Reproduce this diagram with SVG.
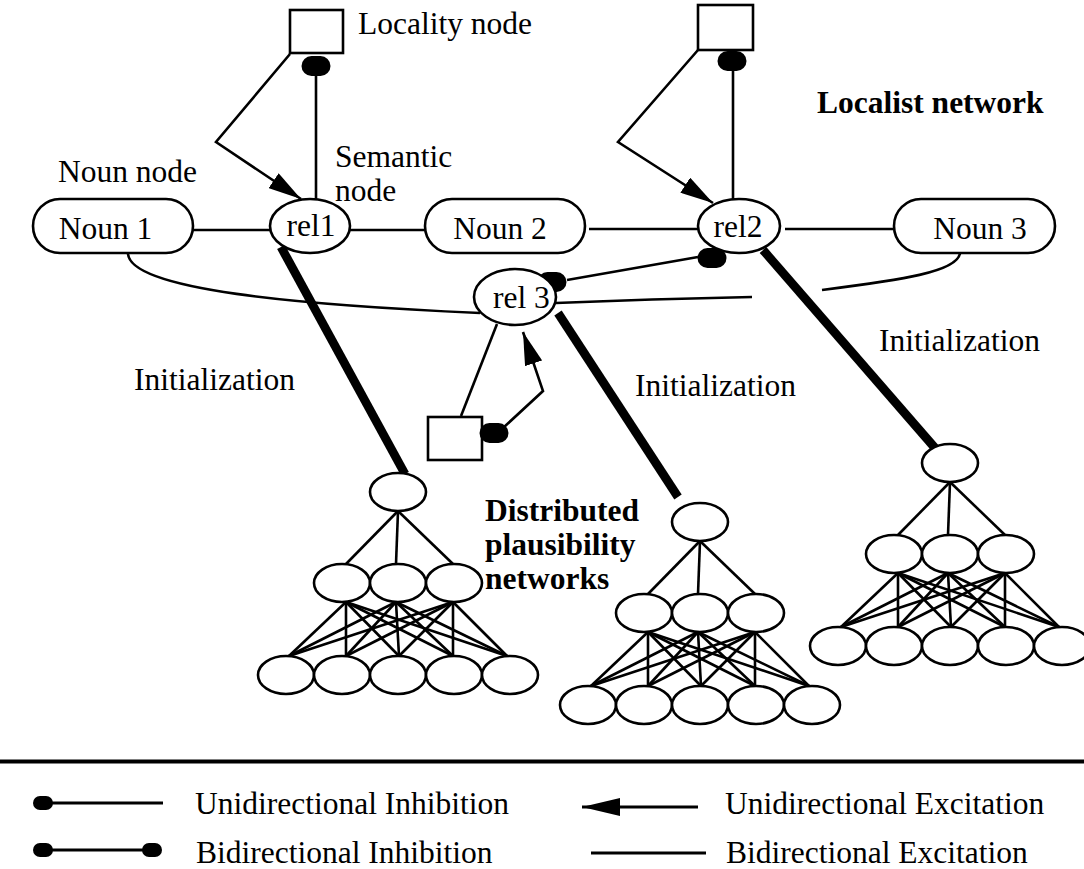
<svg xmlns="http://www.w3.org/2000/svg" width="1084" height="869" viewBox="0 0 1084 869">
<style>
text{font-family:"Liberation Serif","Times New Roman",serif;font-size:31.5px;fill:#000}
.b{font-weight:bold}
.ln{fill:none;stroke:#000;stroke-width:2.6}
.lg{fill:none;stroke:#000;stroke-width:3}
.thick{fill:none;stroke:#000;stroke-width:8.8}
.nd{fill:#fff;stroke:#000;stroke-width:2.6}
.blob{fill:#000}
</style>
<defs>
<marker id="arr" markerUnits="userSpaceOnUse" markerWidth="34" markerHeight="18" refX="33" refY="9" orient="auto"><path d="M0,0 L33,9 L0,18 z" fill="#000"/></marker>
<marker id="arrL" markerUnits="userSpaceOnUse" markerWidth="39" markerHeight="18" refX="38" refY="9" orient="auto"><path d="M0,0 L38,9 L0,18 z" fill="#000"/></marker>
<rect id="blob" class="blob" x="-14.5" y="-10" width="29" height="20" rx="10"/>
<rect id="blobS" class="blob" x="-10" y="-7" width="20" height="14" rx="7"/>
<g id="net">
<g class="ln">
<line x1="398" y1="511" x2="346" y2="564"/><line x1="398" y1="511" x2="396" y2="564"/><line x1="398" y1="511" x2="453" y2="564"/>
<line x1="346" y1="602" x2="289" y2="656"/><line x1="346" y1="602" x2="346" y2="656"/><line x1="346" y1="602" x2="399" y2="656"/><line x1="346" y1="602" x2="453" y2="656"/><line x1="346" y1="602" x2="507" y2="656"/>
<line x1="396" y1="602" x2="289" y2="656"/><line x1="396" y1="602" x2="346" y2="656"/><line x1="396" y1="602" x2="399" y2="656"/><line x1="396" y1="602" x2="453" y2="656"/><line x1="396" y1="602" x2="507" y2="656"/>
<line x1="453" y1="602" x2="289" y2="656"/><line x1="453" y1="602" x2="346" y2="656"/><line x1="453" y1="602" x2="399" y2="656"/><line x1="453" y1="602" x2="453" y2="656"/><line x1="453" y1="602" x2="507" y2="656"/>
</g>
<ellipse class="nd" cx="398" cy="492" rx="28" ry="19"/>
<ellipse class="nd" cx="342" cy="583" rx="28" ry="19"/><ellipse class="nd" cx="398" cy="583" rx="28" ry="19"/><ellipse class="nd" cx="454" cy="583" rx="28" ry="19"/>
<ellipse class="nd" cx="286" cy="675" rx="28" ry="19"/><ellipse class="nd" cx="342" cy="675" rx="28" ry="19"/><ellipse class="nd" cx="398" cy="675" rx="28" ry="19"/><ellipse class="nd" cx="454" cy="675" rx="28" ry="19"/><ellipse class="nd" cx="510" cy="675" rx="28" ry="19"/>
</g>
</defs>
<rect width="1084" height="869" fill="#fff"/>

<g id="connectors">
<line class="ln" x1="193" y1="230" x2="270" y2="230"/>
<line class="ln" x1="350" y1="230" x2="425" y2="230"/>
<line class="ln" x1="589" y1="229" x2="698" y2="229"/>
<line class="ln" x1="785" y1="229" x2="894" y2="229"/>
<path class="ln" d="M128,253 C128,290 300,305 480,313"/>
<path class="ln" d="M556,303 Q650,299 752,297"/>
<path class="ln" d="M822,290 C900,280 958,272 960,253"/>
<line class="ln" x1="316" y1="75" x2="316" y2="200"/>
<polyline class="ln" points="290,54 216,142 301,199" marker-end="url(#arr)"/>
<line class="ln" x1="733" y1="71" x2="733" y2="200"/>
<polyline class="ln" points="698,50 618,142 713,203" marker-end="url(#arr)"/>
<line class="ln" x1="567" y1="280" x2="698" y2="257"/>
<use href="#blob" x="552" y="282"/>
<use href="#blob" x="712" y="258"/>
<use href="#blob" x="316" y="66"/>
<use href="#blob" x="732" y="61"/>
<line class="ln" x1="461" y1="416" x2="497" y2="324"/>
<polyline class="ln" points="503,428 543,391 523,332" marker-end="url(#arr)"/>
<line class="thick" x1="281" y1="247" x2="405" y2="474"/>
<line class="thick" x1="763" y1="250" x2="935" y2="448"/>
<line class="thick" x1="558" y1="313" x2="678" y2="497"/>
</g>

<g id="noun1"><rect class="nd" x="33" y="199" width="160" height="54" rx="27"/><text x="105.5" y="239" text-anchor="middle">Noun 1</text></g>
<g id="rel1"><ellipse class="nd" cx="310" cy="226" rx="40" ry="27"/><text x="311" y="236" text-anchor="middle">rel1</text></g>
<g id="noun2"><rect class="nd" x="425" y="199" width="160" height="54" rx="27"/><text x="500" y="239" text-anchor="middle">Noun 2</text></g>
<g id="rel2"><ellipse class="nd" cx="739" cy="226" rx="41" ry="27"/><text x="738" y="237" text-anchor="middle">rel2</text></g>
<g id="noun3"><rect class="nd" x="894" y="199" width="161" height="54" rx="27"/><text x="980" y="239" text-anchor="middle">Noun 3</text></g>
<g id="rel3"><ellipse class="nd" cx="515" cy="297" rx="41" ry="28"/><text x="493" y="308">rel 3</text></g>
<g id="locality1"><rect class="nd" x="290" y="10" width="53" height="43"/></g>
<g id="locality2"><rect class="nd" x="698" y="5" width="55" height="45"/></g>
<g id="locality3"><rect class="nd" x="428" y="417" width="54" height="43"/><use href="#blob" x="494" y="433"/></g>
<g id="net-left"><use href="#net"/></g>
<g id="net-middle" transform="translate(302,30)"><use href="#net"/></g>
<g id="net-right" transform="translate(552,-29)"><use href="#net"/></g>

<g id="labels">
<text x="358" y="34">Locality node</text>
<text x="58" y="182">Noun node</text>
<text x="335" y="167">Semantic</text>
<text x="335" y="201">node</text>
<text class="b" x="817" y="113">Localist network</text>
<text x="134" y="390">Initialization</text>
<text x="635" y="396">Initialization</text>
<text x="879" y="351">Initialization</text>
<text class="b" x="485" y="521">Distributed</text>
<text class="b" x="485" y="555">plausibility</text>
<text class="b" x="485" y="589">networks</text>
</g>

<g id="legend">
<line x1="0" y1="761.5" x2="1084" y2="761.5" stroke="#000" stroke-width="4"/>
<line class="lg" x1="50" y1="803" x2="163" y2="803"/>
<use href="#blobS" x="43" y="803"/>
<text x="195" y="814">Unidirectional Inhibition</text>
<line class="lg" x1="50" y1="850" x2="146" y2="850"/>
<use href="#blobS" x="43" y="850"/>
<use href="#blobS" x="152" y="850"/>
<text x="196" y="863">Bidirectional Inhibition</text>
<line class="lg" x1="698" y1="807" x2="582" y2="807" marker-end="url(#arrL)"/>
<text x="725" y="814">Unidirectional Excitation</text>
<line class="lg" x1="591" y1="853" x2="706" y2="853"/>
<text x="726" y="863">Bidirectional Excitation</text>
</g>
</svg>
